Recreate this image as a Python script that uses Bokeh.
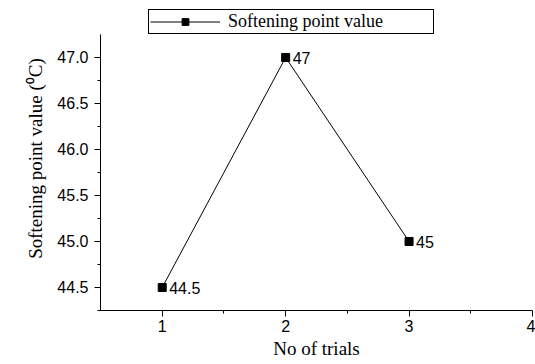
from bokeh.plotting import figure
from bokeh.models import Range1d, FixedTicker, Legend, LegendItem, ColumnDataSource, CustomJSTickFormatter
from bokeh.core.properties import value
from bokeh.embed import file_html
from bokeh.resources import INLINE

trials = [1, 2, 3]
softening = [44.5, 47.0, 45.0]
point_labels = ["44.5", "47", "45"]
x_ticks = [1, 2, 3, 4]
y_ticks = [44.5, 45.0, 45.5, 46.0, 46.5, 47.0]
series_name = "Softening point value"

p = figure(width=535, height=364, output_backend="svg", toolbar_location=None,
           x_range=Range1d(0.5, 4.0), y_range=Range1d(44.25, 47.554),
           min_border_left=100, min_border_right=3, min_border_top=6, min_border_bottom=54)
p.outline_line_color = None
p.grid.visible = False
p.background_fill_color = "white"

src = ColumnDataSource(dict(x=trials, y=softening, lab=point_labels))
ln = p.line("x", "y", source=src, line_color="black", line_width=1)
sc = p.scatter("x", "y", source=src, marker="square", size=8, fill_color="black", line_color="black")
p.text("x", "y", text="lab", source=src, x_offset=7, y_offset=1, text_baseline="middle",
       text_font=value("Liberation Sans"), text_font_size="16px", text_color="black")

for ax in (p.xaxis[0], p.yaxis[0]):
    ax.axis_line_color = "black"
    ax.major_tick_line_color = "black"
    ax.minor_tick_line_color = "black"
    ax.major_tick_out = 6
    ax.major_tick_in = 0
    ax.minor_tick_out = 3
    ax.minor_tick_in = 0
    ax.major_label_text_font = "Liberation Sans"
    ax.major_label_text_font_size = "16px"
    ax.major_label_text_color = "black"
    ax.axis_label_text_font = "Liberation Serif"
    ax.axis_label_text_font_size = "19px"
    ax.axis_label_text_font_style = "normal"
    ax.axis_label_text_color = "black"

p.yaxis.bounds = (44.25, 47.25)
p.xaxis.ticker = FixedTicker(ticks=x_ticks, minor_ticks=[1.5, 2.5, 3.5])
p.yaxis.ticker = FixedTicker(ticks=y_ticks, minor_ticks=[44.25 + 0.25 * i for i in range(12)])
p.yaxis.formatter = CustomJSTickFormatter(code="return tick.toFixed(1);")
p.xaxis.axis_label = "No of trials"
p.yaxis.axis_label = "Softening point value (\u2070C)"
p.xaxis.major_label_standoff = 3
p.yaxis.major_label_standoff = 6
p.xaxis.axis_label_standoff = 3
p.yaxis.axis_label_standoff = 8

legend = Legend(items=[LegendItem(label=series_name, renderers=[ln, sc])],
                location=(48, 276), orientation="horizontal",
                label_text_font="Liberation Serif", label_text_font_size="18px",
                label_text_color="black",
                border_line_color="black", border_line_width=1, border_line_alpha=1.0,
                background_fill_alpha=1.0,
                glyph_width=70, glyph_height=17, padding=1, margin=0, spacing=0,
                label_standoff=8, label_height=17, label_width=204)
p.add_layout(legend, "center")

open("out.html", "w").write(file_html(p, INLINE))
